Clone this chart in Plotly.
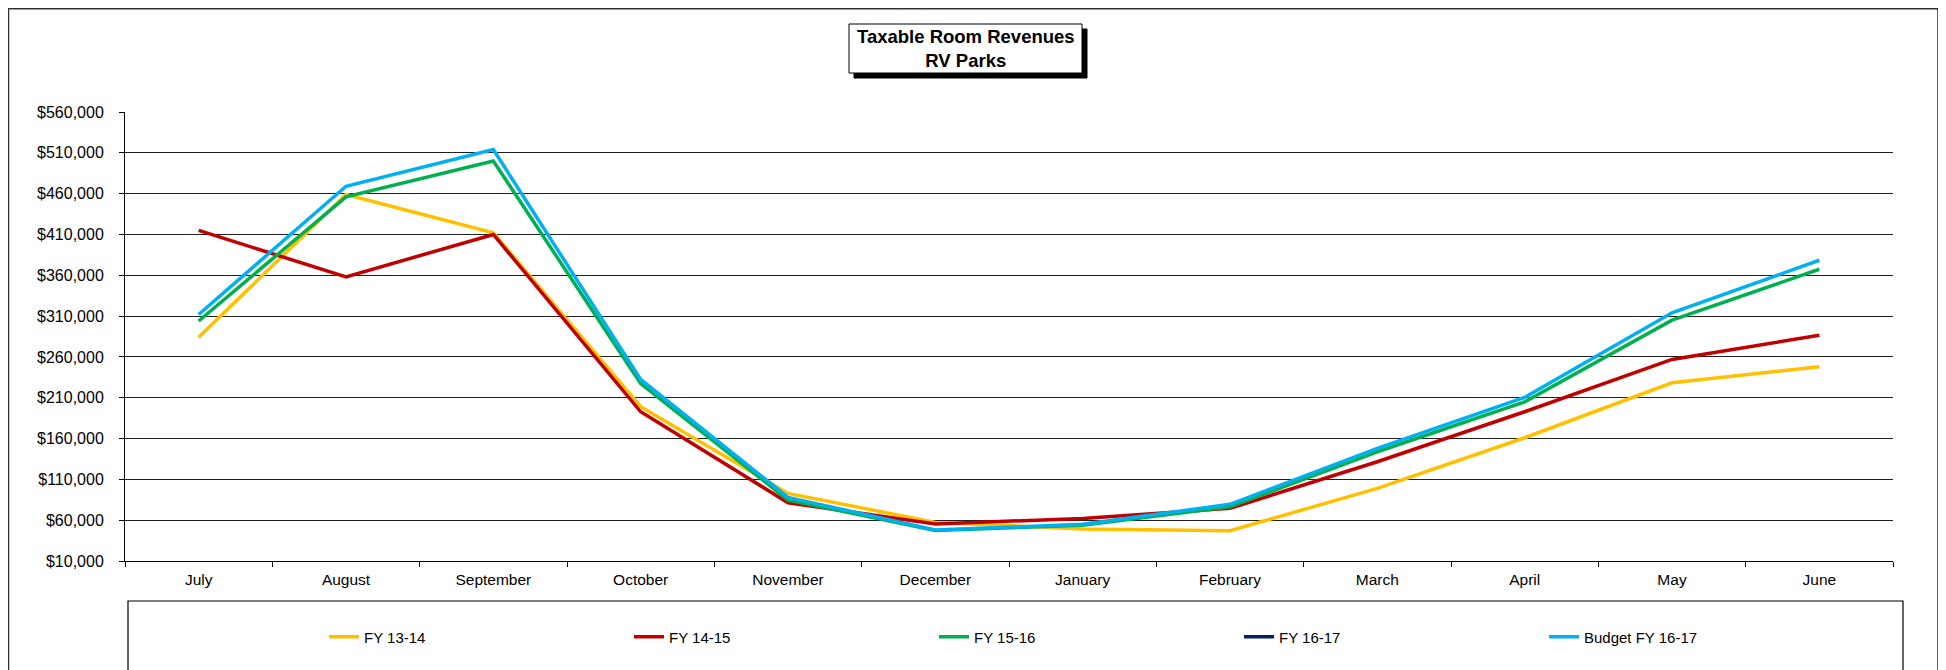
import plotly.graph_objects as go

months = ["July", "August", "September", "October", "November", "December",
          "January", "February", "March", "April", "May", "June"]
fy1314 = [284000, 459000, 412000, 199000, 92800, 57300, 49200, 47100, 99000, 161000, 228300, 247900]
fy1415 = [415000, 358000, 410000, 192800, 81400, 55300, 62200, 74500, 131600, 192800, 256900, 286600]
fy1516 = [304000, 456000, 500000, 227500, 84700, 47500, 53700, 76500, 143800, 205000, 305000, 367400]
fy1617 = [None] * 12
budget1617 = [312000, 469000, 514000, 232400, 87900, 48000, 54900, 79400, 147900, 210300, 314000, 378400]

series = [
    ("FY 13-14", fy1314, "#FFC000"),
    ("FY 14-15", fy1415, "#C00000"),
    ("FY 15-16", fy1516, "#00B050"),
    ("FY 16-17", fy1617, "#002060"),
    ("Budget FY 16-17", budget1617, "#00B0F0"),
]

tickvals = list(range(10000, 560001, 50000))
ticktext = ["${:,}".format(v) for v in tickvals]

FONT = "Liberation Sans, Arial, sans-serif"

fig = go.Figure()
for name, vals, color in series:
    fig.add_trace(go.Scatter(x=months, y=vals, name=name, mode="lines",
                             line=dict(color=color, width=3.5), connectgaps=False))

# page body has an 8px margin; positions below are screen pixels
OFF = 8
W, H = 1946, 670
L, R, T, B = 125 - OFF, 1946 - (1893 - OFF), 112 - OFF, 670 - (561 - OFF)
pw = W - L - R
ph = H - T - B


def px(x):
    return (x - OFF - L) / pw


def py(y):
    return (H - B - (y - OFF)) / ph


shapes = []
# outer frame
shapes.append(dict(type="rect", xref="paper", yref="paper",
                   x0=px(8.5), x1=px(1938), y0=py(720), y1=py(8.7),
                   line=dict(color="#303030", width=1.5), layer="below"))
# legend box
shapes.append(dict(type="rect", xref="paper", yref="paper",
                   x0=px(128), x1=px(1903), y0=py(720), y1=py(601),
                   line=dict(color="black", width=1.2), layer="below"))
# title shadow
shapes.append(dict(type="rect", xref="paper", yref="paper",
                   x0=px(854), x1=px(1087), y0=py(78), y1=py(29),
                   fillcolor="black", line=dict(color="black", width=1)))
# title box
shapes.append(dict(type="rect", xref="paper", yref="paper",
                   x0=px(849), x1=px(1082), y0=py(73), y1=py(24),
                   fillcolor="white", line=dict(color="black", width=1)))

fig.update_layout(
    width=W, height=H,
    margin=dict(l=L, r=R, t=T, b=B, autoexpand=False),
    paper_bgcolor="white", plot_bgcolor="white",
    font=dict(family=FONT, size=15, color="black"),
    shapes=shapes,
    annotations=[dict(text="<b>Taxable Room Revenues<br>RV Parks</b>",
                      xref="paper", yref="paper", x=px(965.5), y=py(48.5),
                      xanchor="center", yanchor="middle", showarrow=False,
                      font=dict(family=FONT, size=18.5, color="black"))],
    showlegend=True,
    legend=dict(orientation="h", x=px(324), y=py(637), xanchor="left", yanchor="middle",
                entrywidth=260, entrywidthmode="pixels",
                font=dict(family=FONT, size=15, color="black"),
                bgcolor="rgba(0,0,0,0)", traceorder="normal"),
    xaxis=dict(type="category", range=[-0.5, 11.5], showgrid=False, showline=True,
               linecolor="black", linewidth=1,
               ticks="outside", tickson="boundaries", ticklen=5, tickcolor="black",
               tickfont=dict(family=FONT, size=15.5), ticklabelstandoff=4,
               mirror=False, zeroline=False),
    yaxis=dict(range=[10000, 560000], tickvals=tickvals, ticktext=ticktext,
               showgrid=True, gridcolor="#202020", gridwidth=1,
               showline=True, linecolor="black", linewidth=1,
               ticks="outside", ticklen=5, tickcolor="black",
               tickfont=dict(family=FONT, size=16), ticklabelstandoff=12, zeroline=False),
)

fig.write_html("out.html")
